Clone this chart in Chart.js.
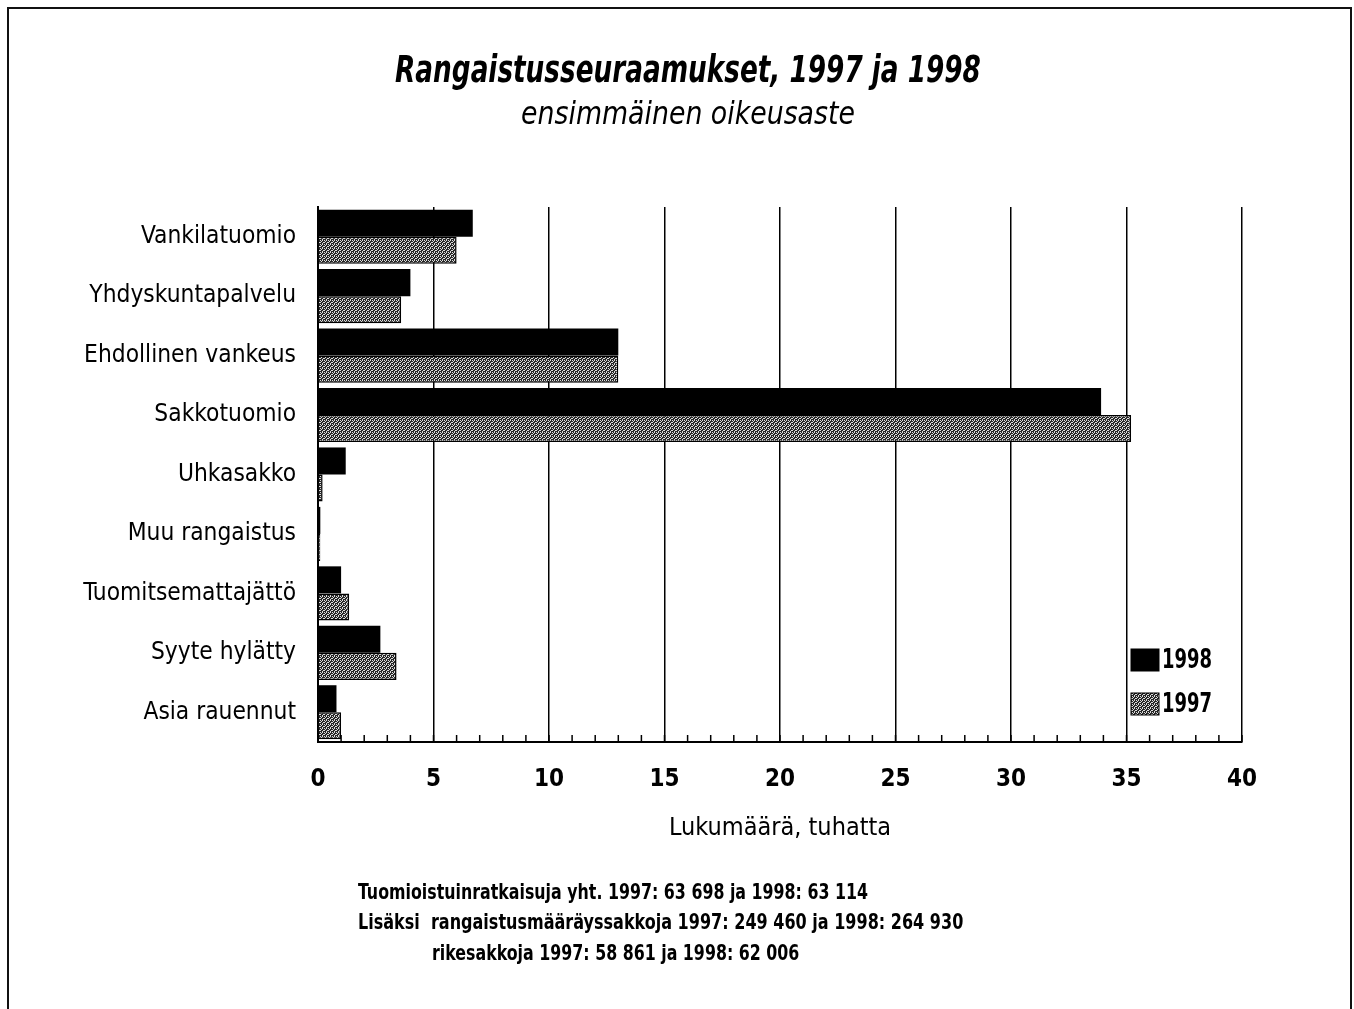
<!DOCTYPE html>
<html lang="fi">
<head>
<meta charset="utf-8">
<title>Rangaistusseuraamukset, 1997 ja 1998</title>
<script src="https://cdn.jsdelivr.net/npm/chart.js@4.4.1/dist/chart.umd.min.js"></script>
<style>
  html, body { margin: 0; padding: 0; background: #fff; }
  #kaavio { display: block; }
</style>
</head>
<body>
<canvas id="kaavio" width="1354" height="1009"></canvas>
<script>
const kategoriat = ["Vankilatuomio", "Yhdyskuntapalvelu", "Ehdollinen vankeus", "Sakkotuomio",
  "Uhkasakko", "Muu rangaistus", "Tuomitsemattajättö", "Syyte hylätty", "Asia rauennut"];
const arvot1998 = [6.7, 4.0, 13.0, 33.9, 1.2, 0.1, 1.0, 2.7, 0.8];
const arvot1997 = [6.0, 3.6, 13.0, 35.2, 0.2, 0.1, 1.35, 3.4, 1.0];
const xTikit = [0, 5, 10, 15, 20, 25, 30, 35, 40];
const otsikko = "Rangaistusseuraamukset, 1997 ja 1998";
const alaotsikko = "ensimmäinen oikeusaste";
const akseliOtsikko = "Lukumäärä, tuhatta";
const alaviite = [
  "Tuomioistuinratkaisuja yht. 1997: 63 698 ja 1998: 63 114",
  "Lisäksi  rangaistusmääräyssakkoja 1997: 249 460 ja 1998: 264 930",
  "rikesakkoja 1997: 58 861 ja 1998: 62 006"
];

const FONTTI = '"Liberation Sans Narrow", "DejaVu Sans Condensed", "Arial Narrow", sans-serif';

// harmaa pistekuvio 1997-palkeille
function teeKuvio() {
  const c = document.createElement('canvas');
  c.width = 4; c.height = 4;
  const g = c.getContext('2d');
  g.fillStyle = '#262626';
  g.fillRect(0, 0, 4, 4);
  g.fillStyle = '#dcdcdc';
  [[0, 0], [2, 0], [1, 1], [3, 2], [0, 2], [2, 3]].forEach(([x, y]) => g.fillRect(x, y, 1, 1));
  return g.createPattern(c, 'repeat');
}
const kuvio = teeKuvio();

// kapeampi teksti vaakaskaalauksella
function kapeaTeksti(ctx, teksti, x, y, skaala) {
  ctx.save();
  ctx.translate(x, y);
  ctx.scale(skaala, 1);
  ctx.fillText(teksti, 0, 0);
  ctx.restore();
}

const tekstit = {
  id: 'tekstit',
  beforeDraw(chart) {
    const ctx = chart.ctx;
    ctx.save();
    ctx.strokeStyle = '#111';
    ctx.lineWidth = 2;
    ctx.beginPath();
    ctx.moveTo(8, 1009);
    ctx.lineTo(8, 8);
    ctx.lineTo(1351, 8);
    ctx.lineTo(1351, 1009);
    ctx.stroke();
    ctx.restore();
  },
  afterDraw(chart) {
    const ctx = chart.ctx;
    const x = chart.scales.x;
    const ala = chart.chartArea.bottom;
    ctx.save();
    // pienet väliviivat
    ctx.strokeStyle = '#000';
    ctx.lineWidth = 1.5;
    for (let v = 0; v <= 40; v++) {
      const px = x.getPixelForValue(v);
      ctx.beginPath();
      ctx.moveTo(px, ala);
      ctx.lineTo(px, ala - 7);
      ctx.stroke();
    }
    // otsikot
    ctx.fillStyle = '#000';
    ctx.textAlign = 'center';
    ctx.textBaseline = 'middle';
    ctx.font = 'italic bold 37px ' + FONTTI;
    kapeaTeksti(ctx, otsikko, 688, 72, 0.79);
    ctx.font = 'italic 32px ' + FONTTI;
    kapeaTeksti(ctx, alaotsikko, 688, 116, 0.93);
    // selite
    const ds = chart.data.datasets;
    const selY = [660, 704];
    ds.forEach((d, i) => {
      ctx.fillStyle = d.backgroundColor;
      ctx.fillRect(1131, selY[i] - 11, 28, 22);
      ctx.strokeStyle = '#000';
      ctx.lineWidth = 1;
      ctx.strokeRect(1131, selY[i] - 11, 28, 22);
      ctx.fillStyle = '#000';
      ctx.textAlign = 'left';
      ctx.font = 'bold 27px ' + FONTTI;
      kapeaTeksti(ctx, d.label, 1162, selY[i] + 1, 0.74);
    });
    // alaviite
    ctx.font = 'bold 22px ' + FONTTI;
    ctx.textAlign = 'left';
    kapeaTeksti(ctx, alaviite[0], 358, 893, 0.8);
    kapeaTeksti(ctx, alaviite[1], 358, 923, 0.81);
    kapeaTeksti(ctx, alaviite[2], 432, 954, 0.8);
    ctx.restore();
  }
};

new Chart(document.getElementById('kaavio'), {
  type: 'bar',
  data: {
    labels: kategoriat,
    datasets: [
      { label: '1998', data: arvot1998, backgroundColor: '#000', borderColor: '#000', borderWidth: 0 },
      { label: '1997', data: arvot1997, backgroundColor: kuvio, borderColor: '#000', borderWidth: 1.5 }
    ]
  },
  options: {
    indexAxis: 'y',
    responsive: false,
    animation: false,
    layout: { padding: { left: 0, right: 112, top: 207, bottom: 157 } },
    datasets: { bar: { categoryPercentage: 0.91, barPercentage: 1 } },
    plugins: {
      legend: { display: false },
      tooltip: { enabled: false }
    },
    scales: {
      x: {
        min: 0,
        max: 40,
        afterFit(scale) { scale.height = 110; },
        grid: {
          drawTicks: false,
          color: c => (c.tick && xTikit.includes(c.tick.value)) ? '#000' : 'rgba(0,0,0,0)',
          lineWidth: 1.5
        },
        border: { display: true, color: '#000', width: 2 },
        ticks: {
          stepSize: 1,
          autoSkip: false,
          maxRotation: 0,
          padding: 23,
          color: '#000',
          font: { family: FONTTI, size: 24, weight: 'bold' },
          callback: v => xTikit.includes(v) ? v : ''
        },
        title: {
          display: true,
          text: akseliOtsikko,
          color: '#000',
          font: { family: FONTTI, size: 25 },
          padding: { top: 0, bottom: 9 }
        }
      },
      y: {
        afterFit(scale) { scale.width = 318; },
        grid: { display: false, drawTicks: false },
        border: { display: true, color: '#000', width: 2 },
        ticks: {
          padding: 22,
          color: '#000',
          font: { family: FONTTI, size: 24.3 }
        }
      }
    }
  },
  plugins: [tekstit]
});
</script>
</body>
</html>
